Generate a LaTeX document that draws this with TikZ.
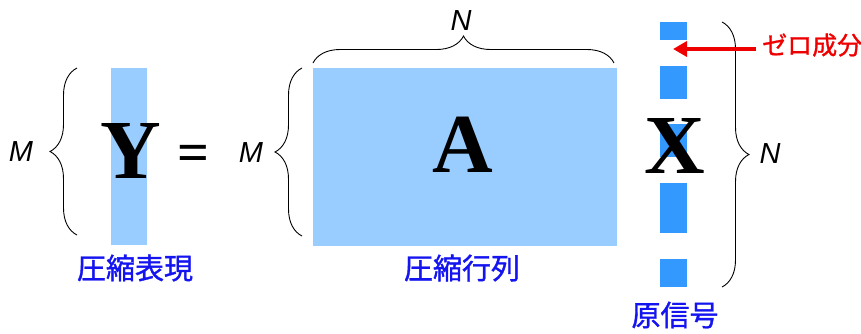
\documentclass[tikz,border=0pt]{standalone}
\usepackage{fontspec}
\setmainfont{Liberation Serif}
\newfontfamily\latinsans{Liberation Sans}
\newfontfamily\jpfont[FakeBold=1.2]{Noto Sans CJK JP}
\usetikzlibrary{decorations.pathreplacing,arrows.meta}
\definecolor{lightblue}{HTML}{99CCFF}
\definecolor{darkblue}{HTML}{3399FF}
\definecolor{labelblue}{HTML}{1414F0}
\definecolor{labelred}{HTML}{EE0000}
\begin{document}
\begin{tikzpicture}[x=1pt,y=-1pt,
  block/.style={draw=none,inner sep=0pt,outer sep=0pt,anchor=north west},
  lightblk/.style={block,fill=lightblue},
  darkblk/.style={block,fill=darkblue,minimum width=27pt},
  bigletter/.style={inner sep=0pt,anchor=base,font=\bfseries\fontsize{84}{84}\selectfont},
  dimlabel/.style={inner sep=0pt,font=\latinsans\itshape\fontsize{29}{29}\selectfont},
  jplabel/.style={inner sep=0pt,text=labelblue,font=\jpfont\fontsize{29}{29}\selectfont},
  bracestyle/.style={draw=black,line width=0.9pt,decorate,decoration={brace,amplitude=27pt}}]
\useasboundingbox (0,0) rectangle (861,333);
% Y column
\node[lightblk,minimum width=36pt,minimum height=177pt] (ycol) at (111,68) {};
% A matrix
\node[lightblk,minimum width=304pt,minimum height=178pt] (amat) at (313,68) {};
% X segments
\node[darkblk,minimum height=18pt] (x1) at (660,22) {};
\node[darkblk,minimum height=33pt] (x2) at (660,66) {};
\node[darkblk,minimum height=33pt] (x3) at (660,124) {};
\node[darkblk,minimum height=50pt] (x4) at (660,183) {};
\node[darkblk,minimum height=28pt] (x5) at (660,259) {};
% letters
\node[bigletter] (ylet) at (131,178) {Y};
\node[inner sep=0pt,font=\bfseries\fontsize{56}{56}\selectfont] (eq) at (193,158) {=};
\node[bigletter] (alet) at (463,172) {A};
\node[bigletter] (xlet) at (675,173) {X};
% braces
\coordinate (yb1) at (77,235);
\coordinate (yb2) at (77,68);
\draw[bracestyle] (yb1) -- (yb2);
\coordinate (ab1) at (302,236);
\coordinate (ab2) at (302,68);
\draw[bracestyle] (ab1) -- (ab2);
\coordinate (tb1) at (313,63);
\coordinate (tb2) at (614,63);
\draw[bracestyle] (tb1) -- (tb2);
\coordinate (rb1) at (722,22);
\coordinate (rb2) at (722,287);
\draw[bracestyle] (rb1) -- (rb2);
% dimension labels
\node[dimlabel] (m1) at (21,152) {M};
\node[dimlabel] (m2) at (251,153) {M};
\node[dimlabel] (n1) at (461,21) {N};
\node[dimlabel] (n2) at (770,154) {N};
% blue labels
\node[jplabel] (lab1) at (135,268) {圧縮表現};
\node[jplabel] (lab2) at (462,268) {圧縮行列};
\node[jplabel] (lab3) at (675,315) {原信号};
% red label and arrow
\node[inner sep=0pt,anchor=west,text=labelred,font=\jpfont\fontsize{25}{25}\selectfont] (zero) at (762,45) {ゼロ成分};
\coordinate (arrtip) at (673,49);
\draw[labelred,line width=4pt,-{Triangle[length=14pt,width=15pt]}] (zero.west |- arrtip) ++(-6,0) coordinate (arrstart) -- (arrtip);
\end{tikzpicture}
\end{document}
